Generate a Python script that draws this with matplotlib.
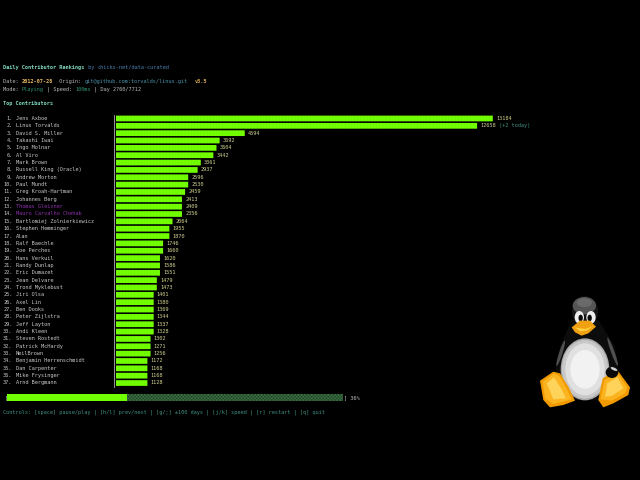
import matplotlib
matplotlib.use("Agg")
import matplotlib.pyplot as plt
from matplotlib.patches import Ellipse, Polygon
from matplotlib.transforms import blended_transform_factory

# Classement des contributeurs
names = ["Jens Axboe", "Linus Torvalds", "David S. Miller", "Takashi Iwai", "Ingo Molnar", "Al Viro",
         "Mark Brown", "Russell King (Oracle)", "Andrew Morton", "Paul Mundt", "Greg Kroah-Hartman",
         "Johannes Berg", "Thomas Gleixner", "Mauro Carvalho Chehab", "Bartlomiej Zolnierkiewicz",
         "Stephen Hemminger", "Alan", "Ralf Baechle", "Joe Perches", "Hans Verkuil", "Randy Dunlap",
         "Eric Dumazet", "Jean Delvare", "Trond Myklebust", "Jiri Olsa", "Axel Lin", "Ben Dooks",
         "Peter Zijlstra", "Jeff Layton", "Andi Kleen", "Steven Rostedt", "Patrick McHardy", "NeilBrown",
         "Benjamin Herrenschmidt", "Dan Carpenter", "Mike Frysinger", "Arnd Bergmann"]
commits = [13184, 12658, 4594, 3692, 3604, 3442, 3061, 2937, 2596, 2530, 2459, 2413, 2409, 2356, 2064,
           1955, 1870, 1746, 1660, 1620, 1586, 1551, 1479, 1473, 1401, 1380, 1369, 1344, 1337, 1328,
           1302, 1271, 1256, 1172, 1168, 1168, 1128]
highlighted = ["Thomas Gleixner", "Mauro Carvalho Chehab"]
today_notes = {"Linus Torvalds": "(+2 today)"}
progress_pct = 36

BG = "#000000"
GREEN = "#72ff00"
MONO = "DejaVu Sans Mono"
FS = 3.75
CHAR = 3.14
BAR_CELLS = 120
BAR_W = CHAR * BAR_CELLS

fig = plt.figure(figsize=(6.4, 4.8), dpi=100, facecolor=BG)


def px_axes(x0, y0, w, h):
    # axes placees en pixels de l'image (origine en haut a gauche)
    return fig.add_axes([x0 / 640, 1 - (y0 + h) / 480, w / 640, h / 480])


# Calque texte en coordonnees pixel
top = px_axes(0, 0, 640, 480)
top.set_xlim(0, 640)
top.set_ylim(480, 0)
top.axis("off")


def line(y, parts, x=3):
    # une ligne de terminal : morceaux (texte, couleur, gras)
    col = 0
    for part in parts:
        txt, color = part[0], part[1]
        bold = len(part) > 2
        top.text(x + col * CHAR, y, txt, color=color, family=MONO, fontsize=FS, va="baseline", ha="left",
                 fontweight="bold" if bold else "normal")
        col += len(txt)


line(68.7, [("Daily Contributor Rankings", "#7fd8c0", True), (" by ", "#4a7fb0"),
            ("chicks-net/data-curated", "#4a7fb0")])
line(83.2, [("Date: ", "#b8b8b8"), ("2012-07-28", "#e8b860", True), ("  Origin: ", "#b8b8b8"),
            ("git@github.com:torvalds/linux.git", "#4a90a8"), ("  ", "#b8b8b8"), ("v3.5", "#d8a850", True)])
line(90.6, [("Mode: ", "#b8b8b8"), ("Playing", "#2f9070"), (" | Speed: ", "#b8b8b8"), ("100ms", "#2f9070"),
            (" | Day 2760/7712", "#b8b8b8")])
line(105.2, [("Top Contributors", "#7fd8c0", True)])
line(413.7, [("Controls: [space] pause/play | [h/l] prev/next | [g/;] \u00b1100 days | [j/k] speed | [r] restart | [q] quit",
              "#3f9080")])

# Barres
ax = px_axes(116, 114.8, BAR_W, 271.9)
ax.set_facecolor("none")
ax.set_xlim(0, BAR_CELLS)
ax.set_ylim(len(names) - 0.5, -0.5)
cells = [int(c / max(commits) * BAR_CELLS) for c in commits]
bars = ax.barh(range(len(names)), cells, height=0.78, color=GREEN, linewidth=0)
for b in bars:
    b.set_snap(False)  # sinon les ecarts entre barres sont irreguliers
for i, n in enumerate(cells):
    # separations entre les caracteres de bloc
    seps = ax.vlines(range(1, n), i - 0.39, i + 0.39, color="#50c000", linewidth=0.2, alpha=0.35)
    seps.set_snap(False)

for side in ["top", "right", "bottom"]:
    ax.spines[side].set_visible(False)
ax.spines["left"].set_position(("outward", 1.1))
ax.spines["left"].set_color("#b0b0b0")
ax.spines["left"].set_linewidth(0.6)
ax.set_xticks([])
ax.set_yticks([])

tr = blended_transform_factory(ax.transAxes, ax.transData)
num_x = (12.5 - 116) / BAR_W
name_x = (15.7 - 116) / BAR_W
base = 0.2  # decalage de la ligne de base
for i, (name, c, n) in enumerate(zip(names, commits, cells)):
    color = "#8a30a8" if name in highlighted else "#c8c8c8"
    ax.text(num_x, i + base, f"{i + 1}.", color="#c8c8c8", family=MONO, fontsize=FS, va="baseline", ha="right",
            transform=tr)
    ax.text(name_x, i + base, name, color=color, family=MONO, fontsize=FS, va="baseline", ha="left",
            transform=tr)
    ax.text(n + 1, i + base, str(c), color="#d0d090", family=MONO, fontsize=FS, va="baseline", ha="left",
            clip_on=False)
    if name in today_notes:
        ax.text(n + 1 + len(str(c)) + 1, i + base, today_notes[name], color="#3f9080", family=MONO, fontsize=FS,
                va="baseline", ha="left", clip_on=False)

# Barre de progression
pax = px_axes(6.5, 394, 336, 7)
pax.set_facecolor("none")
pax.set_xlim(0, 100)
pax.set_ylim(0, 1)
pax.axis("off")
plt.rcParams["hatch.linewidth"] = 0.3
pax.barh(0.5, 100, height=1, color="#1f4a28", linewidth=0, hatch="xxxxxxxxxx", edgecolor="#4a7f50")
pax.barh(0.5, progress_pct, height=1, color=GREEN, linewidth=0)
top.text(4.5, 399.2, "[", color="#c0c0c0", family=MONO, fontsize=FS, va="baseline", ha="left")
top.text(343.5, 399.2, f"] {progress_pct}%", color="#c0c0c0", family=MONO, fontsize=FS, va="baseline", ha="left")

# Logo Tux (coordonnees du recadrage 3x)
logo = px_axes(530, 290, 110, 125)
logo.set_xlim(0, 330)
logo.set_ylim(375, 0)
logo.axis("off")
logo.set_facecolor("none")


def ell(x, y, w, h, color, angle=0, z=1):
    logo.add_patch(Ellipse((x, y), w, h, angle=angle, facecolor=color, edgecolor="none", zorder=z))


def poly(points, color, z):
    logo.add_patch(Polygon(points, closed=True, facecolor=color, edgecolor="none", zorder=z))


# corps sombre et ailes
poly([(125, 90), (205, 90), (255, 170), (265, 250), (230, 330), (100, 330), (75, 250), (90, 170)], "#0c0c0c", 1)
ell(165, 65, 78, 92, "#161616", z=2)
ell(163, 47, 70, 52, "#555555", z=2)
ell(163, 38, 46, 26, "#6a6a6a", z=2)
ell(92, 190, 10, 80, "#505050", angle=18, z=2)
ell(248, 185, 10, 90, "#505050", angle=-20, z=2)
# ventre
for w, h, c in [(146, 186, "#a8a8a8"), (138, 176, "#c8c8c8"), (118, 156, "#e0e0e0"), (88, 116, "#f2f2f2")]:
    ell(165, 238, w, h, c, z=3)
# yeux
ell(148, 82, 28, 38, "#eeeeee", z=4)
ell(183, 82, 28, 38, "#eeeeee", z=4)
ell(152, 84, 13, 20, "#0a0a0a", z=5)
ell(179, 84, 13, 20, "#0a0a0a", z=5)
# bec
poly([(125, 112), (150, 92), (180, 92), (198, 110), (175, 130), (155, 137), (135, 127)], "#f0a010", 6)
poly([(135, 112), (165, 117), (190, 108), (170, 122), (150, 124)], "#ffd040", 7)
# pieds
poly([(30, 272), (70, 245), (90, 250), (115, 290), (135, 332), (100, 345), (60, 352), (40, 330)], "#f09a00", 6)
poly([(38, 275), (72, 250), (88, 258), (108, 292), (125, 328), (70, 342), (45, 325)], "#fbb420", 7)
poly([(50, 280), (72, 262), (95, 298), (108, 325), (70, 328)], "#ffd25a", 8)
poly([(205, 330), (218, 265), (262, 240), (300, 292), (295, 315), (250, 340), (220, 352)], "#f09a00", 6)
poly([(212, 328), (224, 270), (262, 250), (292, 292), (285, 310), (245, 332)], "#fbb420", 7)
poly([(225, 320), (232, 280), (262, 262), (280, 295), (245, 318)], "#ffd25a", 8)
ell(246, 247, 38, 34, "#0a0a0a", z=9)
ell(252, 237, 22, 8, "#d0d0d0", angle=25, z=10)

fig.savefig("out.png", dpi=100, facecolor=BG)
